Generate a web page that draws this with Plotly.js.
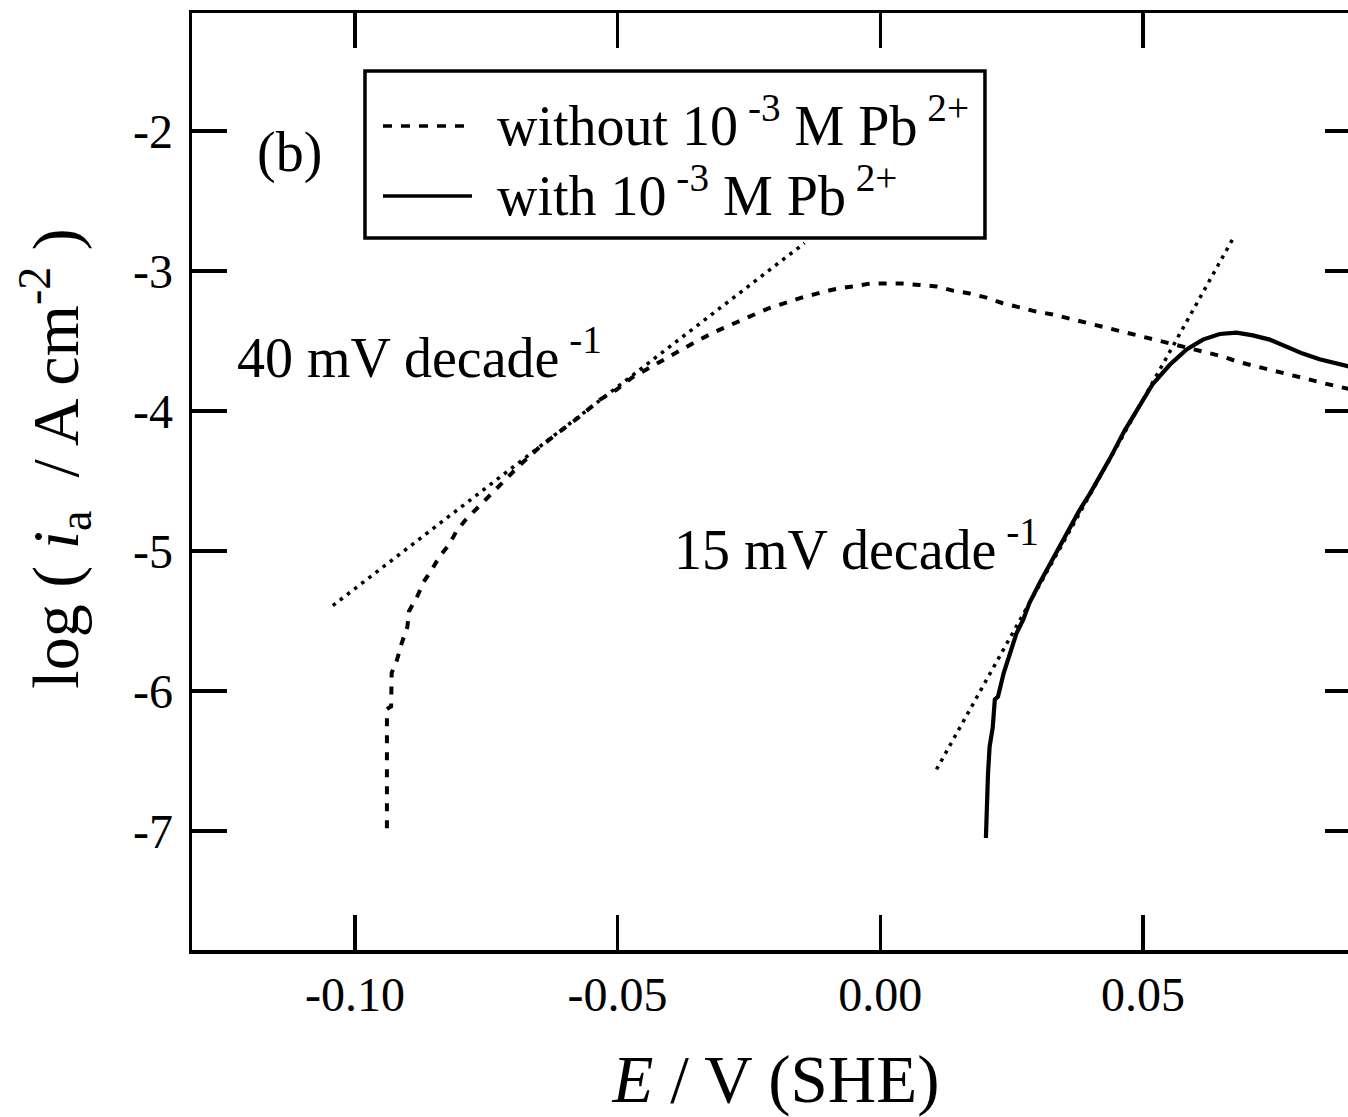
<!DOCTYPE html>
<html>
<head>
<meta charset="utf-8">
<script src="https://cdn.plot.ly/plotly-3.0.1.min.js"></script>
<style>
  html, body { margin: 0; padding: 0; overflow: hidden; background: #fff; }
  #chart { width: 1380px; height: 1117px; }
</style>
</head>
<body>
<div id="chart"></div>
<script>
// ---- data (E in V vs SHE, log current density) ----
const E_without = [-0.0939, -0.0939, -0.0939, -0.0939, -0.0939, -0.0931, -0.0930, -0.0930, -0.0920, -0.0911,
  -0.0900, -0.0897, -0.0882, -0.0869, -0.0853, -0.0839, -0.0820, -0.0807, -0.0790, -0.0770,
  -0.0753, -0.0687, -0.0649, -0.0611, -0.0572, -0.0534, -0.0503, -0.0472, -0.0439, -0.0407,
  -0.0376, -0.0344, -0.0312, -0.0281, -0.0246, -0.0215, -0.0182, -0.0150, -0.0119, -0.0087,
  -0.0053, -0.0020, 0.0011, 0.0043, 0.0075, 0.0107, 0.0138, 0.0170, 0.0202, 0.0233,
  0.0265, 0.0297, 0.0328, 0.0360, 0.0395, 0.0427, 0.0459, 0.0490, 0.0522, 0.0556,
  0.0585, 0.0619, 0.0651, 0.0682, 0.0716, 0.0747, 0.0779, 0.0811, 0.0842, 0.0874, 0.0912];
const logI_without = [-6.98, -6.71, -6.47, -6.23, -6.13, -6.11, -5.99, -5.87, -5.78, -5.66,
  -5.54, -5.43, -5.33, -5.22, -5.13, -5.04, -4.95, -4.86, -4.78, -4.70,
  -4.64, -4.39, -4.26, -4.15, -4.04, -3.92, -3.85, -3.76, -3.69, -3.62,
  -3.55, -3.49, -3.43, -3.38, -3.32, -3.27, -3.23, -3.19, -3.16, -3.13,
  -3.11, -3.09, -3.09, -3.09, -3.10, -3.11, -3.14, -3.16, -3.19, -3.23,
  -3.26, -3.29, -3.31, -3.34, -3.37, -3.40, -3.43, -3.46, -3.49, -3.52,
  -3.55, -3.58, -3.61, -3.65, -3.68, -3.71, -3.74, -3.77, -3.80, -3.83, -3.86];

const E_with = [0.0201, 0.0203, 0.0205, 0.0208, 0.0214, 0.0218, 0.0224, 0.0235, 0.0241, 0.0249,
  0.0259, 0.0272, 0.0284, 0.0303, 0.0329, 0.0354, 0.0379, 0.0399, 0.0418, 0.0437, 0.0465,
  0.0494, 0.0518, 0.0551, 0.0583, 0.0614, 0.0646, 0.0678, 0.0709, 0.0741, 0.0773,
  0.0804, 0.0836, 0.0868, 0.0890, 0.0912];
const logI_with = [-7.05, -6.78, -6.59, -6.40, -6.26, -6.06, -6.04, -5.87, -5.80, -5.71,
  -5.59, -5.49, -5.37, -5.23, -5.05, -4.88, -4.71, -4.59, -4.47, -4.34, -4.14,
  -3.96, -3.81, -3.67, -3.56, -3.49, -3.45, -3.44, -3.46, -3.49, -3.54,
  -3.59, -3.63, -3.66, -3.68, -3.71];

const E_tafel40 = [-0.1042, -0.0144];
const logI_tafel40 = [-5.39, -2.80];
const E_tafel15 = [0.0107, 0.0671];
const logI_tafel15 = [-6.56, -2.77];

const xTickVals = [-0.10, -0.05, 0.00, 0.05];
const xTickText = ["-0.10", "-0.05", "0.00", "0.05"];
const yTickVals = [-2, -3, -4, -5, -6, -7];
const yTickText = ["-2", "-3", "-4", "-5", "-6", "-7"];

const seriesNames = ["without 10<sup> -3</sup> M Pb<sup> 2+</sup>", "with 10<sup> -3</sup> M Pb<sup> 2+</sup>"];
const slopeLabels = ["40 mV decade<sup> -1</sup>", "15 mV decade<sup> -1</sup>"];

// ---- chart ----
const SERIF = "Liberation Serif, Times New Roman, serif";
// zero-width space keeps the leading no-break spaces from being trimmed (shifts the centred title up)
const PAD = "\u200B\u00A0\u00A0\u2009";
const traces = [
  {x: E_tafel40, y: logI_tafel40, mode: "lines", line: {color: "#000", width: 3.5, dash: "3.5px,5.5px"}, showlegend: false, hoverinfo: "skip"},
  {x: E_tafel15, y: logI_tafel15, mode: "lines", line: {color: "#000", width: 3.5, dash: "3.5px,5.5px"}, showlegend: false, hoverinfo: "skip"},
  {x: E_without, y: logI_without, mode: "lines", name: seriesNames[0], line: {color: "#000", width: 4, dash: "8px,9px"}, showlegend: false},
  {x: E_with, y: logI_with, mode: "lines", name: seriesNames[1], line: {color: "#000", width: 4.2}, showlegend: false}
];

const axisCommon = {
  showgrid: false, zeroline: false,
  showline: true, linecolor: "#000", linewidth: 3.5, mirror: "ticks",
  ticks: "inside", ticklen: 35, tickwidth: 3.5, tickcolor: "#000",
  tickmode: "array",
  tickfont: {family: SERIF, size: 48, color: "#000"}
};

const layout = {
  width: 1380, height: 1117,
  margin: {l: 192, r: 20, t: 13, b: 167},
  paper_bgcolor: "#fff", plot_bgcolor: "#fff",
  showlegend: false,
  font: {family: SERIF, color: "#000"},
  xaxis: Object.assign({}, axisCommon, {
    range: [-0.131, 0.0913],
    tickvals: xTickVals, ticktext: xTickText,
    ticklabelstandoff: 0,
    title: {text: "<i>E</i> / V (SHE)", font: {family: SERIF, size: 67, color: "#000"}, standoff: 40}
  }),
  yaxis: Object.assign({}, axisCommon, {
    range: [-7.85, -1.157],
    tickvals: yTickVals, ticktext: yTickText,
    ticklabelstandoff: 6,
    title: {text: PAD + "log ( <i>i</i><sub>a</sub>  / A cm<sup>-2</sup> )", font: {family: SERIF, size: 66, color: "#000"}, standoff: 34}
  }),
  shapes: [
    {type: "rect", xref: "paper", yref: "paper", x0: 0.1481, x1: 0.6789, y0: 0.7599, y1: 0.9381,
     line: {color: "#000", width: 3.5}, fillcolor: "#fff", layer: "above"},
    {type: "line", xref: "paper", yref: "paper", x0: 0.1635, x1: 0.2397, y0: 0.8794, y1: 0.8794,
     line: {color: "#000", width: 3.5, dash: "9px,9px"}, layer: "above"},
    {type: "line", xref: "paper", yref: "paper", x0: 0.1635, x1: 0.2397, y0: 0.8047, y1: 0.8047,
     line: {color: "#000", width: 3.5}, layer: "above"}
  ],
  annotations: [
    {xref: "paper", yref: "paper", x: 0.2594, y: 0.8837, xanchor: "left", yanchor: "middle", showarrow: false,
     text: seriesNames[0], font: {family: SERIF, size: 56, color: "#000"}},
    {xref: "paper", yref: "paper", x: 0.2594, y: 0.8090, xanchor: "left", yanchor: "middle", showarrow: false,
     text: seriesNames[1], font: {family: SERIF, size: 56, color: "#000"}},
    {xref: "x", yref: "y", x: -0.1125, y: -2.15, xanchor: "center", yanchor: "middle", showarrow: false,
     text: "(b)", font: {family: SERIF, size: 56, color: "#000"}},
    {xref: "x", yref: "y", x: -0.1229, y: -3.59, xanchor: "left", yanchor: "middle", showarrow: false,
     text: slopeLabels[0], font: {family: SERIF, size: 56, color: "#000"}},
    {xref: "x", yref: "y", x: -0.0397, y: -4.96, xanchor: "left", yanchor: "middle", showarrow: false,
     text: slopeLabels[1], font: {family: SERIF, size: 56, color: "#000"}}
  ]
};

Plotly.newPlot("chart", traces, layout, {displayModeBar: false, staticPlot: true});
</script>
</body>
</html>
